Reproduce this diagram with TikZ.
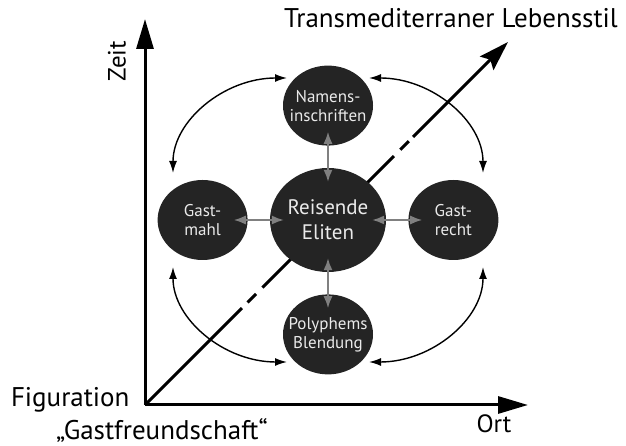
\documentclass[tikz,border=0pt]{standalone}
\usepackage{fontspec}
\setmainfont{PT Sans}
\usetikzlibrary{arrows.meta, positioning, shapes.geometric}

\definecolor{blobfill}{HTML}{242424}
\definecolor{blobtext}{HTML}{EAEAEA}
\definecolor{linkgray}{HTML}{808080}

\begin{document}
\begin{tikzpicture}[
    x = 1pt, y = 1pt,
    node distance = 22pt, % gap between the circles
    axis/.style = {line width = 3pt, -{Triangle[length=30pt, width=17pt]}},
    trend/.style = {line width = 3pt, -{Stealth[length=30pt, width=19pt, inset=5pt]},
        dash pattern = on 137pt off 8pt on 12pt off 9pt on 186pt off 9pt on 12pt off 6pt on 400pt},
    link/.style = {linkgray, line width = 1.6pt, {Latex[length=12pt, width=9pt]}-{Latex[length=12pt, width=9pt]},
        shorten < = -14pt, shorten > = -14pt},
    ring/.style = {line width = 1.4pt, {Latex[length=12pt, width=8pt]}-{Latex[length=12pt, width=8pt]}},
    label/.style = {font = \fontsize{27}{30}\selectfont}
    ]

    \tikzset{
    blob/.style = {
    ellipse,
    fill = blobfill,
    text = blobtext,
    align = center,
    inner sep = -12pt,
    minimum width = 90pt,
    minimum height = 80pt,
    font = \fontsize{17}{19}\selectfont
    },
    bigblob/.style = {blob, minimum width = 116pt, minimum height = 104pt,
    font = \fontsize{21}{25}\selectfont}
    }

    \useasboundingbox (0,0) rectangle (626,446);

    % axes
    \coordinate (o) at (145,41);
    \coordinate (zeit) at (145,427);
    \coordinate (ort) at (528,41);
    \coordinate (stil) at (508,404);

    \draw[axis] (o) -- (zeit);
    \draw[axis] (o) -- (ort);
    \draw[trend] (o) -- (stil);

    \node[label, rotate=90, font=\fontsize{25}{28}\selectfont] (zeitlabel) at (117,385) {Zeit};
    \node[label, font=\fontsize{25}{28}\selectfont] (ortlabel) at (494,22) {Ort};
    \node[label, anchor=base] (stillabel) at (451,418) {Transmediterraner Lebensstil};
    \node[label, anchor=base east] (fig) at (133,39) {Figuration};
    \node[label, anchor=base] (gast) at (162,6) {„Gastfreundschaft“};

    % circles
    \node[bigblob] (eliten) at (328,226) {Reisende\\Eliten};
    \node[blob] (namen) [above=of eliten] {Namens-\\inschriften};
    \node[blob] (mahl) [left=of eliten] {Gast-\\mahl};
    \node[blob] (recht) [right=of eliten] {Gast-\\recht};
    \node[blob] (poly) [below=of eliten] {Polyphems\\Blendung};

    \draw[link] (namen.south) -- (eliten.north);
    \draw[link] (mahl.east) -- (eliten.west);
    \draw[link] (eliten.east) -- (recht.west);
    \draw[link] (eliten.south) -- (poly.north);

    % outer arcs
    \coordinate (tl1) at (173,273);
    \coordinate (tl2) at (287,368);
    \coordinate (tr1) at (369,368);
    \coordinate (tr2) at (483,273);
    \coordinate (bl1) at (173,179);
    \coordinate (bl2) at (287,84);
    \coordinate (br1) at (369,84);
    \coordinate (br2) at (483,179);

    \draw[ring] (tl1) .. controls +(0,52) and +(-63,0) .. (tl2);
    \draw[ring] (tr1) .. controls +(63,0) and +(0,52) .. (tr2);
    \draw[ring] (bl1) .. controls +(0,-52) and +(-63,0) .. (bl2);
    \draw[ring] (br1) .. controls +(63,0) and +(0,-52) .. (br2);

\end{tikzpicture}
\end{document}
